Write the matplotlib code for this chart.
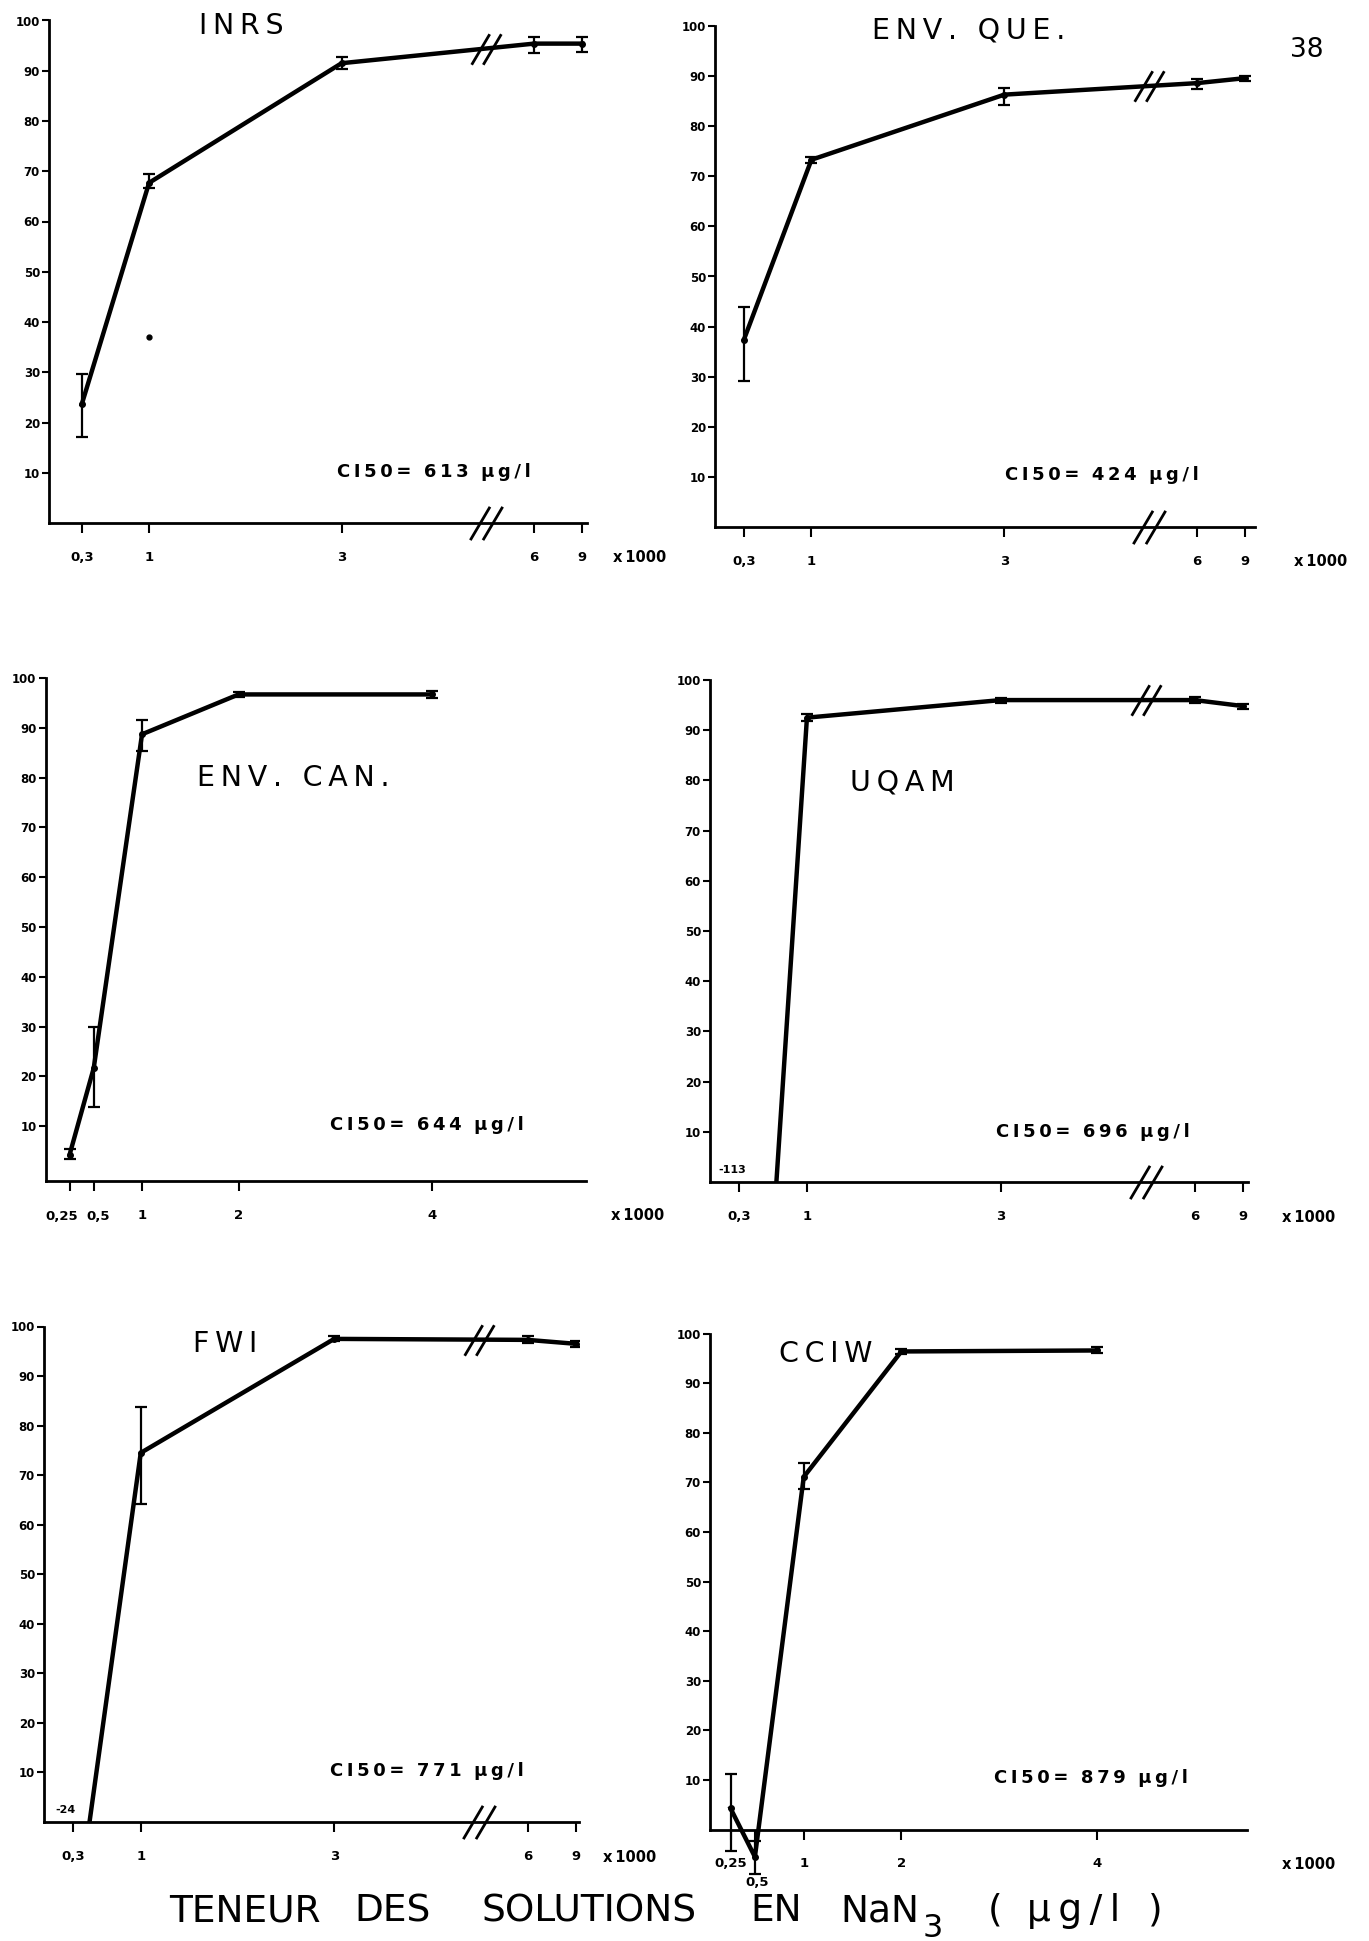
import numpy as np
import matplotlib
matplotlib.use("Agg")
import matplotlib.pyplot as plt
from matplotlib.path import Path

plt.rcParams["font.family"] = ["DejaVu Sans"]

# ---- data (concentration x1000 µg/l, % inhibition) ----
conc_a = np.array([0.3, 1, 3, 6, 9])
conc_b = np.array([0.25, 0.5, 1, 2, 4])
labels_a = ["0,3", "1", "3", "6", "9"]
labels_b = ["0,25", "0,5", "1", "2", "4"]

inrs_y = np.array([23.6, 67.7, 91.5, 95.4, 95.4])
inrs_lo = np.array([17.1, 66.6, 90.4, 93.5, 93.8])
inrs_hi = np.array([29.6, 69.5, 92.7, 96.7, 96.7])
inrs_extra_x = [1]
inrs_extra_y = [37]

que_y = np.array([37.4, 73.3, 86.3, 88.6, 89.6])
que_lo = np.array([29.2, 72.7, 84.2, 87.5, 89.1])
que_hi = np.array([44.0, 73.9, 87.7, 89.4, 90.1])

can_y = np.array([4.3, 21.7, 88.7, 96.7, 96.7])
can_lo = np.array([3.4, 13.8, 85.4, 96.2, 96.0])
can_hi = np.array([5.4, 30.0, 91.5, 97.2, 97.4])

uqam_y = np.array([-113, 92.5, 96.0, 96.0, 94.8])
uqam_lo = np.array([-113, 91.8, 95.5, 95.4, 94.3])
uqam_hi = np.array([-113, 93.2, 96.5, 96.6, 95.3])

fwi_y = np.array([-24, 74.5, 97.5, 97.3, 96.5])
fwi_lo = np.array([-24, 64.2, 97.0, 96.6, 95.9])
fwi_hi = np.array([-24, 83.8, 98.0, 98.0, 97.1])

cciw_y = np.array([4.3, -5.5, 71.1, 96.4, 96.6])
cciw_lo = np.array([-4.3, -8.9, 68.6, 95.9, 96.0])
cciw_hi = np.array([11.2, -2.2, 74.0, 96.9, 97.2])

ci50 = [613, 424, 644, 696, 771, 879]
names = ["INRS", "ENV. QUE.", "ENV. CAN.", "UQAM", "FWI", "CCIW"]

W, H = 1369, 1941
fig = plt.figure(figsize=(W / 100, H / 100), dpi=100)

def fx(x): return x / W
def fy(y): return 1 - y / H

def spaced(s): return "\u2009".join(s)

# broken axis: linear up to 4.5, then compressed
def fwd(c):
    c = np.asarray(c, float)
    return np.where(c <= 4.5, c, np.where(c <= 6, 4.5 + (c - 4.5) / 3, 5 + (c - 6) / 6))

def inv(p):
    p = np.asarray(p, float)
    return np.where(p <= 4.5, p, np.where(p <= 5, 4.5 + (p - 4.5) * 3, 6 + (p - 5) * 6))

brk_marker = Path([(-0.97, -1), (0.21, 1), (-0.21, -1), (0.97, 1)],
                  [Path.MOVETO, Path.LINETO, Path.MOVETO, Path.LINETO])

# layout: (left, right, top, bottom) in pixels; moved: tick labels drawn by hand (dx, dy px)
panels = [
    dict(x=conc_a, y=inrs_y, lo=inrs_lo, hi=inrs_hi, brk=True, box=(49, 587, 20.5, 523), xlim=(-0.04, 9.3),
         ylim=(0, 100), title=(241, 26), ci=(337, 472), xk=26, moved={}),
    dict(x=conc_a, y=que_y, lo=que_lo, hi=que_hi, brk=True, box=(715, 1255, 26, 527), xlim=(0, 9.6),
         ylim=(0, 100), title=(969, 31), ci=(1005, 475), xk=39, moved={}),
    dict(x=conc_b, y=can_y, lo=can_lo, hi=can_hi, brk=False, box=(45.5, 586, 678, 1181), xlim=(0, 5.6),
         ylim=(-1, 100), title=(293, 778), ci=(330, 1125), xk=25, moved={0: (-8, 0), 1: (4, 0)}),
    dict(x=conc_a, y=uqam_y, lo=uqam_lo, hi=uqam_hi, brk=True, box=(710, 1248, 680, 1182), xlim=(0, 9.3),
         ylim=(0, 100), title=(902, 782), ci=(996, 1132), xk=34, moved={}),
    dict(x=conc_a, y=fwi_y, lo=fwi_lo, hi=fwi_hi, brk=True, box=(44, 579, 1326.5, 1822), xlim=(0, 9.18),
         ylim=(0, 100), title=(225, 1344), ci=(330, 1771), xk=24, moved={}),
    dict(x=conc_b, y=cciw_y, lo=cciw_lo, hi=cciw_hi, brk=False, box=(710, 1247, 1333.6, 1829.6), xlim=(0.04, 5.54),
         ylim=(0, 100), title=(826, 1354), ci=(994, 1778), xk=35, moved={1: (2, -18)}),
]

for i, pnl in enumerate(panels):
    l, r, t, b = pnl["box"]
    ax = fig.add_axes([fx(l), fy(b), (r - l) / W, (b - t) / H])
    if pnl["brk"]:
        ax.set_xscale("function", functions=(fwd, inv))
    ax.set_xlim(*pnl["xlim"]); ax.set_ylim(*pnl["ylim"])
    for s in ("top", "right"):
        ax.spines[s].set_visible(False)
    for s in ("left", "bottom"):
        ax.spines[s].set_linewidth(2.0)
    ax.patch.set_alpha(0)

    x, y, lo, hi = pnl["x"], pnl["y"], pnl["lo"], pnl["hi"]
    clip = i != 5
    eb = ax.errorbar(x, y, yerr=[y - lo, hi - y], fmt="-o", color="black", lw=3.2, ms=4,
                     capsize=4, elinewidth=1.6, capthick=1.6, zorder=3)
    for art in eb.get_children():
        art.set_clip_on(clip)

    labels = list(labels_a if pnl["brk"] else labels_b)
    for k, (dx, dy) in pnl["moved"].items():
        ax.annotate(labels[k], xy=(x[k], 0), xycoords=("data", "axes fraction"), xytext=(dx, -35 + dy),
                    textcoords="offset pixels", ha="center", va="center", fontsize=9.5, fontweight="bold")
        labels[k] = ""
    ax.set_xticks(x, labels, fontsize=9.5, fontweight="bold")
    ax.minorticks_off()
    ax.set_yticks(np.arange(10, 101, 10), [str(v) for v in range(10, 101, 10)], fontsize=8.5, fontweight="bold")
    ax.tick_params(axis="x", direction="out", length=7, width=1.5, pad=13)
    ax.tick_params(axis="y", direction="out", length=5, width=1.5, pad=1.5)

    ax.annotate("x\u20091000", xy=(1, 0), xycoords="axes fraction", xytext=(pnl["xk"], -35),
                textcoords="offset pixels", ha="left", va="center", fontsize=10.5, fontweight="bold")

    if pnl["brk"]:
        ax.plot([4.5], [pnl["ylim"][0]], ls="none", marker=brk_marker, ms=24, mew=2, color="black", clip_on=False)
        yb = np.interp(4.5, fwd(x), y)
        ax.plot([inv(4.5)], [yb], ls="none", marker=brk_marker, ms=22, mew=2, color="black", clip_on=False)

    if i == 0:
        ax.plot(inrs_extra_x, inrs_extra_y, "o", ms=3.5, color="black")
    if y[0] < pnl["ylim"][0]:
        ax.annotate(f"{y[0]:g}", xy=(0, 0), xycoords="axes fraction", xytext=(22, 12),
                    textcoords="offset pixels", ha="center", va="center", fontsize=8, fontweight="bold")

    tx, ty = pnl["title"]
    fig.text(fx(tx), fy(ty), spaced(names[i]), ha="center", va="center", fontsize=20.5)
    cx, cy = pnl["ci"]
    fig.text(fx(cx), fy(cy), spaced("CI50=") + "  " + spaced(str(ci50[i])) + "  " + spaced("µg/l"),
             ha="left", va="center", fontsize=13, fontweight="bold")

# page number and common x label
fig.text(fx(1290), fy(57), "38", ha="left", va="baseline", fontsize=19)
words = [("TENEUR", 169), ("DES", 354), ("SOLUTIONS", 482), ("EN", 750), ("NaN", 840),
         ("(", 988), (spaced("µg/l"), 1027), (")", 1148)]
for w, xw in words:
    fig.text(fx(xw), fy(1921), w, ha="left", va="baseline", fontsize=27)
fig.text(fx(923), fy(1937), "3", ha="left", va="baseline", fontsize=23)

fig.savefig("out.png", dpi=100)
